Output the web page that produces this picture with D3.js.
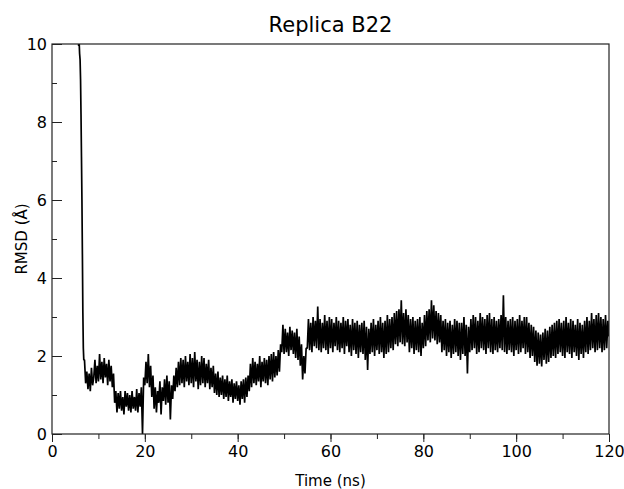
<!DOCTYPE html>
<html>
<head>
<meta charset="utf-8">
<script src="https://cdn.jsdelivr.net/npm/d3@7"></script>
<style>
  body { margin: 0; background: #fff; }
  text { font-family: "DejaVu Sans", sans-serif; fill: #000; }
</style>
</head>
<body>
<svg id="chart" width="624" height="489"></svg>
<script>
// chart text
const title = "Replica B22";
const xLabel = "Time (ns)";
const yLabel = "RMSD (Å)";
const xTicks = [0, 20, 40, 60, 80, 100, 120];
const yTicks = [0, 2, 4, 6, 8, 10];

// initial drop from the start structure, [time ns, rmsd Å]
const dropTime = [5.6, 5.75, 5.85, 5.95, 6.05, 6.15, 6.25, 6.35, 6.45, 6.55, 6.65, 6.75, 6.85];
const dropRmsd = [10.3, 9.95, 10.05, 9.75, 9.6, 9.1, 8.2, 7.1, 6.0, 4.6, 3.1, 2.2, 1.9];

// main trace, one frame every 0.25 ns from 7 ns on
const traceStart = 7;
const traceStep = 0.25;
const rmsd = [
  1.9,1.3,1.6,1.15, 1.55,1.1,1.7,1.25, 1.45,1.9,1.3,1.75, 1.35,2.05,1.4,1.85,
  1.3,1.95,1.45,1.8, 1.25,1.9,1.35,1.75, 1.2,1.55,0.8,1.1, 0.55,1.05,0.65,1.1,
  0.6,0.95,0.5,1.1, 0.7,1.05,0.6,1.0, 0.55,1.1,0.65,0.95, 0.6,1.15,0.55,1.05,
  0.7,1.2,0.0,1.45, 1.25,1.85,1.3,2.05, 1.2,1.75,0.95,1.5, 0.65,1.2,0.55,1.1,
  0.8,1.35,0.5,1.2, 0.85,1.4,0.75,1.5, 0.8,1.35,0.37,1.25, 0.9,1.5,1.1,1.7,
  1.2,1.85,1.25,1.95, 1.3,1.9,1.2,2.0, 1.35,1.85,1.25,2.05, 1.3,1.95,1.2,2.1,
  1.35,1.9,1.15,1.85, 1.25,2.0,1.3,1.95, 1.2,1.8,1.3,1.9, 1.15,1.7,1.2,1.75,
  1.05,1.55,1.0,1.6, 0.95,1.45,1.0,1.5, 0.9,1.4,0.95,1.5, 0.85,1.35,0.95,1.4,
  0.8,1.3,0.9,1.35, 0.85,1.25,0.75,1.35, 0.9,1.4,0.8,1.45, 0.95,1.5,1.1,1.8,
  1.2,1.95,1.3,1.85, 1.25,1.8,1.35,2.0, 1.2,1.85,1.35,1.95, 1.3,1.9,1.25,2.0,
  1.4,2.05,1.35,2.1, 1.45,2.0,1.5,2.15, 1.6,2.3,2.1,2.8, 2.05,2.7,2.1,2.6,
  2.0,2.75,2.15,2.65, 2.05,2.6,1.95,2.7, 1.9,2.5,1.75,2.3, 1.4,2.0,1.55,2.2,
  2.2,2.95,2.15,2.85, 2.1,3.0,2.25,2.9, 2.2,3.27,2.15,2.95, 2.1,2.85,2.2,3.05,
  2.15,2.9,2.05,3.0, 2.2,2.95,2.1,2.85, 2.25,3.0,2.15,2.9, 2.1,2.85,2.2,3.0,
  2.05,2.9,2.25,2.95, 2.1,2.8,2.0,2.95, 2.15,2.85,2.05,2.9, 1.95,2.8,2.1,2.85,
  2.05,2.9,1.9,2.75, 1.64,2.7,2.05,2.85, 2.1,2.95,2.0,2.8, 2.15,2.9,2.05,3.0,
  2.1,2.85,1.95,2.9, 2.05,3.05,2.1,2.95, 2.2,3.0,2.15,3.1, 2.3,3.15,2.25,3.2,
  2.35,3.43,2.3,3.1, 2.25,3.2,2.35,3.05, 2.1,2.95,2.2,3.0, 2.05,2.9,2.15,2.95,
  2.1,3.0,2.0,2.85, 2.2,3.05,2.25,3.15, 2.4,3.2,2.35,3.43, 2.45,3.3,2.4,3.15,
  2.3,3.1,2.35,3.05, 2.1,2.9,2.15,2.95, 2.0,2.85,2.1,2.9, 1.95,2.8,2.05,2.95,
  2.1,2.9,2.0,2.85, 1.9,2.85,2.05,3.0, 2.0,2.8,1.55,2.75, 2.1,2.95,2.15,3.05,
  2.2,3.0,2.05,2.9, 2.1,3.1,2.2,3.0, 2.15,2.95,2.05,3.05, 2.2,3.1,2.1,2.95,
  2.05,3.0,2.15,2.9, 2.1,2.95,2.2,3.05, 2.15,3.56,2.1,3.0, 2.05,2.9,2.15,2.95,
  2.1,3.0,2.0,2.9, 2.15,2.95,2.05,3.05, 2.1,2.9,2.2,3.0, 2.05,3.0,2.1,2.85,
  1.95,2.8,2.0,2.75, 1.85,2.65,1.75,2.6, 1.8,2.55,1.73,2.6, 1.9,2.7,1.8,2.65,
  1.85,2.75,1.95,2.8, 2.0,2.85,1.95,2.9, 2.05,2.95,2.1,2.85, 2.0,2.9,1.95,3.0,
  2.1,2.85,2.05,2.95, 1.95,2.9,2.1,2.8, 2.0,2.95,1.9,2.85, 2.05,2.8,1.95,2.9,
  2.1,3.0,2.05,2.9, 2.15,3.1,2.2,2.95, 2.1,3.05,2.15,3.1, 2.2,3.0,2.1,2.95,
  2.15,3.05,2.2,2.9, 2.5
];

const margin = { top: 44, right: 15, bottom: 55, left: 52 };
const width = 624, height = 489;

const svg = d3.select("#chart");

const x = d3.scaleLinear()
  .domain([0, 120])
  .range([margin.left, width - margin.right]);

const y = d3.scaleLinear()
  .domain([0, 10])
  .range([height - margin.bottom, margin.top]);

const points = dropTime.map((t, i) => [t, dropRmsd[i]])
  .concat(rmsd.map((v, i) => [traceStart + i * traceStep, v]));

svg.append("defs").append("clipPath")
  .attr("id", "clip")
  .append("rect")
  .attr("x", x(0)).attr("y", y(10))
  .attr("width", x(120) - x(0)).attr("height", y(0) - y(10));

svg.append("path")
  .datum(points)
  .attr("clip-path", "url(#clip)")
  .attr("fill", "none")
  .attr("stroke", "#000")
  .attr("stroke-width", 1.7)
  .attr("stroke-linejoin", "bevel")
  .attr("d", d3.line().x(d => x(d[0])).y(d => y(d[1])));

// frame
svg.append("rect")
  .attr("x", x(0)).attr("y", y(10))
  .attr("width", x(120) - x(0)).attr("height", y(0) - y(10))
  .attr("fill", "none")
  .attr("stroke", "#222")
  .attr("stroke-width", 1.2);

// bottom axis, ticks outward
svg.append("g")
  .attr("transform", `translate(0,${y(0)})`)
  .call(d3.axisBottom(x).tickValues(d3.range(0, 121, 10)).tickSize(5).tickFormat(""))
  .call(g => g.select(".domain").remove());
svg.append("g")
  .attr("transform", `translate(0,${y(0)})`)
  .call(d3.axisBottom(x).tickValues(xTicks).tickSize(8).tickPadding(4).tickFormat(d3.format("d")))
  .call(g => g.select(".domain").remove())
  .call(g => g.selectAll("text").attr("font-size", 16).attr("fill", "#000").attr("font-family", "DejaVu Sans"));

// left axis, ticks inward
svg.append("g")
  .attr("transform", `translate(${x(0)},0)`)
  .call(d3.axisRight(y).tickValues(d3.range(1, 10, 2)).tickSize(5).tickFormat(""))
  .call(g => g.select(".domain").remove());
svg.append("g")
  .attr("transform", `translate(${x(0)},0)`)
  .call(d3.axisRight(y).tickValues(yTicks).tickSize(10).tickFormat(""))
  .call(g => g.select(".domain").remove());
svg.append("g")
  .attr("transform", `translate(${x(0)},0)`)
  .call(d3.axisLeft(y).tickValues(yTicks).tickSize(0).tickPadding(5).tickFormat(d3.format("d")))
  .call(g => g.select(".domain").remove())
  .call(g => g.selectAll("text").attr("font-size", 16).attr("fill", "#000").attr("font-family", "DejaVu Sans"));

svg.selectAll(".tick line").attr("stroke", "#222");

svg.append("text")
  .attr("x", (x(0) + x(120)) / 2)
  .attr("y", 32)
  .attr("text-anchor", "middle")
  .attr("font-size", 21)
  .text(title);

svg.append("text")
  .attr("x", (x(0) + x(120)) / 2)
  .attr("y", 486)
  .attr("text-anchor", "middle")
  .attr("font-size", 15)
  .text(xLabel);

svg.append("text")
  .attr("transform", `translate(27,${(y(0) + y(10)) / 2}) rotate(-90)`)
  .attr("text-anchor", "middle")
  .attr("font-size", 15)
  .text(yLabel);
</script>
</body>
</html>
